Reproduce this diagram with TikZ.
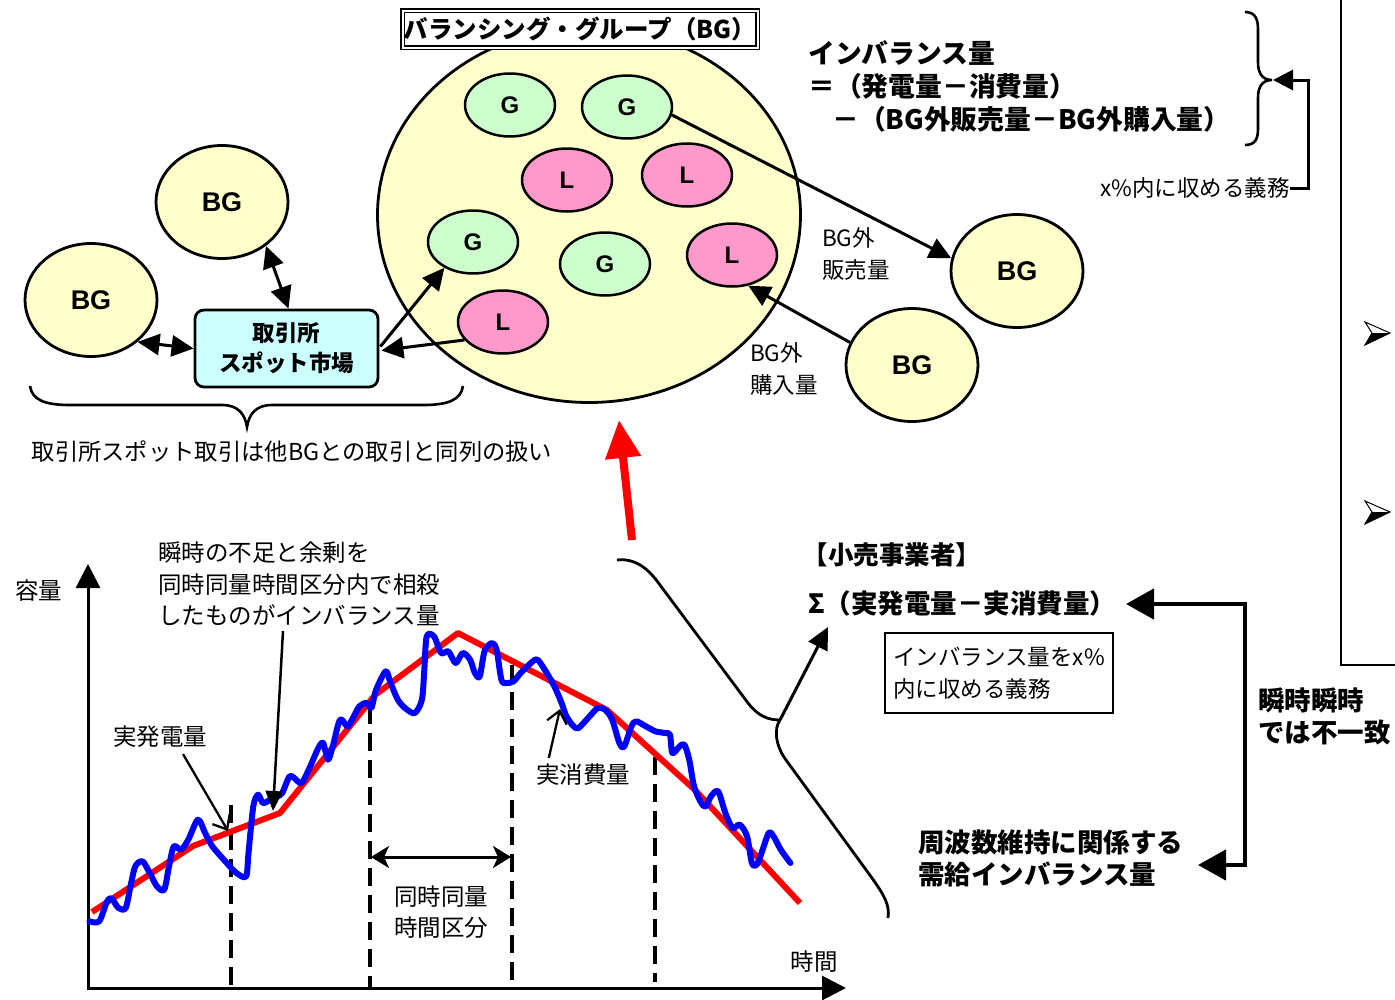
\documentclass[tikz,border=0pt]{standalone}
\usepackage{fontspec}
\setmainfont{Noto Sans CJK JP}
\newfontfamily\lib{Liberation Sans}
\usetikzlibrary{arrows.meta,shapes.geometric,calc}
\definecolor{bgy}{HTML}{FFFFCC}
\definecolor{gfill}{HTML}{CCFFCC}
\definecolor{lfill}{HTML}{FF99CC}
\definecolor{xfill}{HTML}{CCFFFF}
\definecolor{pblue}{HTML}{0000FF}
\definecolor{pred}{HTML}{FF0000}
\begin{document}
\begin{tikzpicture}[x=1pt,y=-1pt,
 bgell/.style={ellipse,draw,line width=2.8pt,fill=bgy,minimum width=132pt,minimum height=113pt,inner sep=0pt,font=\lib\bfseries\fontsize{27}{30}\selectfont},
 gell/.style={ellipse,draw,line width=2.5pt,fill=gfill,minimum width=90pt,minimum height=63pt,inner sep=0pt,font=\lib\bfseries\fontsize{24}{26}\selectfont},
 lell/.style={gell,fill=lfill},
 arr/.style={line width=3pt,-{Triangle[length=22pt,width=21pt]}},
 darr/.style={line width=3pt,{Triangle[length=22pt,width=21pt]}-{Triangle[length=22pt,width=21pt]}},
 barb/.style={line width=2.3pt,-{Straight Barb[length=12pt,width=20pt]}},
 rtxt/.style={font=\fontsize{23.5}{31.5}\selectfont,inner sep=0pt},
 stxt/.style={font=\fontsize{22.5}{32}\selectfont,inner sep=0pt},
 btxt/.style={font=\bfseries\fontsize{26.5}{32}\selectfont,inner sep=0pt},
 chartdash/.style={line width=3.5pt,dash pattern=on 18pt off 9pt},
]
\useasboundingbox (0,0) rectangle (1395,999);

% ---------- Balancing group ----------
\node[ellipse,draw,line width=2.8pt,fill=bgy,minimum width=423pt,minimum height=375pt,inner sep=0pt] (big) at (589,215) {};
\node[draw,double,double distance=2pt,line width=1.2pt,fill=white,minimum width=355pt,minimum height=37pt,inner sep=0pt,font=\bfseries\fontsize{24.5}{28}\selectfont] (title) at (580,29) {バランシング・グループ（BG）};

\node[gell] (g1) at (510,105) {G};
\node[gell] (g2) at (627,107) {G};
\node[lell] (l1) at (567,180) {L};
\node[lell] (l2) at (687,175) {L};
\node[gell] (g3) at (473,242) {G};
\node[gell] (g4) at (605,264) {G};
\node[lell] (l3) at (732,255) {L};
\node[lell] (l4) at (503,322) {L};

\node[bgell] (bgT) at (222,202) {BG};
\node[bgell] (bgL) at (91,300) {BG};
\node[bgell] (bgRT) at (1017,271) {BG};
\node[bgell] (bgRB) at (912,365) {BG};

\node[draw,rounded corners=9pt,line width=2.8pt,fill=xfill,minimum width=183pt,minimum height=77pt,inner sep=0pt,align=center,font=\bfseries\fontsize{22.5}{30}\selectfont] (ex) at (286.5,348.5) {取引所\\スポット市場};

\draw[darr] (bgL.-42) -- (ex.west);
\draw[darr] (bgT.-45) -- ($(ex.north)+(2,0)$);
\draw[arr] ($(ex.east)+(1,-2)$) -- (g3.222);
\draw[arr] (l4.205) -- ($(ex.east)+(2,2)$);
\draw[arr] (g2.-10) -- (bgRT.169);
\draw[arr] (bgRB.160) -- (l3.-62);

\node[stxt,anchor=west,align=left] (sell) at (822,254) {BG外\\販売量};
\node[stxt,anchor=west,align=left] (buy) at (750,369) {BG外\\購入量};

% brace under left part
\draw[line width=2.6pt] (30,386) .. controls (32,400) and (45,405) .. (70,405) -- (222,405)
  .. controls (238,405) and (245,414) .. (247,427) .. controls (249,414) and (256,405) .. (272,405)
  -- (423,405) .. controls (448,405) and (461,400) .. (463,386);
\node[stxt,font=\fontsize{23.3}{32}\selectfont] (spot) at (292,452) {取引所スポット取引は他BGとの取引と同列の扱い};

% ---------- formula top right ----------
\node[font=\bfseries\fontsize{26.8}{33}\selectfont,inner sep=0pt,anchor=north west,align=left] (formula) at (808,40) {インバランス量\\＝（発電量－消費量）\\\hspace*{0.9em}－（BG外販売量－BG外購入量）};
\draw[line width=2.6pt] (1245,12) .. controls (1256,12) and (1258,20) .. (1258,30) -- (1258,62)
  .. controls (1258,73) and (1262,80) .. (1272,80) .. controls (1262,80) and (1258,87) .. (1258,98)
  -- (1258,128) .. controls (1258,138) and (1256,145) .. (1245,145);
\coordinate (btip) at (1273,80);
\node[stxt,anchor=east] (oblig) at (1290,188) {x\%内に収める義務};
\draw[line width=3pt,-{Triangle[length=20pt,width=20pt]}] (oblig.east) -- (1308,188) -- (1308,80) -- (btip);

% right panel
\draw[line width=1.5pt] (1341,-5) -- (1341,665) -- (1400,665);
\foreach \yy in {333,512}{
  \fill[black] (1372,\yy) -- (1390,\yy) -- (1365,\yy+12) -- cycle;
  \draw[line width=1pt,line join=miter] (1365,\yy-11) -- (1390,\yy) -- (1365,\yy+12) -- (1372,\yy) -- cycle;
}

% big red arrow
\coordinate (rbot) at (632,540);
\coordinate (rtop) at (619,420);
\draw[pred,line width=8pt,-{Triangle[length=38pt,width=34pt]}] (rbot) -- (rtop);

% ---------- chart ----------
\coordinate (O) at (88,988);
\coordinate (ytip) at (88,564);
\coordinate (xtip) at (846,988);
\draw[chartdash] (231,805) -- (231,988);
\draw[chartdash] (370,706) -- (370,990);
\draw[chartdash] (512,665) -- (512,982);
\draw[chartdash] (655,757) -- (655,982);
\draw[line width=3pt,-{Triangle[length=24pt,width=24pt]}] (O) -- (ytip);
\draw[line width=3pt,-{Triangle[length=24pt,width=24pt]}] ($(O)+(-1.5,0)$) -- (xtip);

\draw[pred,line width=6pt,line join=round] (92,912) -- (193,846) -- (280,813) -- (375,695) -- (458,633) -- (607,710) -- (695,790) -- (800,903);
\begin{scope}[shift={(82.3,619.7)},xscale=0.4817,yscale=0.3333]
\draw[pblue,line width=6pt,line join=round,line cap=round] plot[smooth,tension=0.5] coordinates {
(15,905) (35,905) (50,850) (60,835) (75,865) (90,865) (100,800) (110,740) (125,725) (140,760)
(155,800) (170,810) (180,740) (190,680) (205,690) (220,660) (240,600) (255,640) (270,680) (300,730)
(320,760) (340,770) (345,700) (355,560) (365,525) (375,550) (390,540) (405,530) (415,520) (430,470)
(440,475) (455,490) (470,450) (490,385) (500,370) (510,420) (520,380) (535,300) (550,320) (560,300)
(575,260) (590,250) (600,265) (610,210) (630,155) (640,190) (655,240) (670,265) (690,280) (705,240)
(710,150) (715,50) (730,50) (745,100) (760,95) (775,130) (790,100) (805,120) (815,160) (825,170)
(835,95) (850,70) (860,90) (870,180) (880,190) (895,185) (910,160) (935,125) (945,120) (960,150)
(980,200) (995,250) (1005,290) (1020,320) (1030,325) (1050,295) (1070,265) (1085,270) (1100,300) (1115,370)
(1125,380) (1140,320) (1150,305) (1170,320) (1190,335) (1210,340) (1220,345) (1225,400) (1240,380) (1250,375)
(1260,420) (1270,500) (1285,550) (1295,560) (1305,530) (1320,515) (1335,580) (1350,625) (1365,615) (1380,650)
(1390,730) (1400,735) (1410,700) (1425,640) (1435,650) (1450,690) (1470,730)};
\end{scope}

\draw[line width=3pt,{Stealth[length=18pt,width=22pt,inset=5pt]}-{Stealth[length=18pt,width=22pt,inset=5pt]}] (371,857) -- (511,857);
\node[rtxt,align=center] (slot) at (441,912) {同時同量\\時間区分};

\node[rtxt] (cap) at (39,591) {容量};
\node[rtxt] (time) at (814,962) {時間};

\node[rtxt] (gen) at (160,737) {実発電量};
\coordinate (genTip) at (228,831);
\draw[barb] ($(gen.south)+(23,6)$) -- (genTip);

\node[rtxt] (con) at (583,775) {実消費量};
\coordinate (conTip) at (560,709);
\draw[barb] ($(con.north west)+(13,-6)$) -- (conTip);

\node[rtxt,anchor=west,align=left] (inst) at (158,584) {瞬時の不足と余剰を\\同時同量時間区分内で相殺\\したものがインバランス量};
\coordinate (instTip) at (273,811);
\draw[line width=2.5pt,-{Triangle[length=20pt,width=17pt]}] (283,631) -- (instTip);

% ---------- retailer ----------
\draw[line width=2.8pt] (617,560) .. controls (635,558) and (648,568) .. (660,585) -- (748,703)
  .. controls (758,716) and (768,720) .. (780,720);
\draw[line width=2.8pt] (780,720) .. controls (774,728) and (775,745) .. (786,760) -- (872,878)
  .. controls (884,895) and (890,905) .. (888,918);
\coordinate (braceTip) at (780,720);
\coordinate (sigTip) at (828,627);
\draw[arr] (braceTip) -- (sigTip);

\node[font=\bfseries\fontsize{25.5}{30}\selectfont,inner sep=0pt] (retail) at (892,555) {【小売事業者】};
\node[font=\bfseries\fontsize{26.5}{30}\selectfont,inner sep=0pt,anchor=west] (sigma) at (808,603) {Σ（実発電量－実消費量）};
\node[draw,line width=1.3pt,minimum width=228pt,minimum height=80pt,inner sep=0pt,align=left,font=\fontsize{22.5}{32}\selectfont] (xbox) at (999,673) {インバランス量をx\%\\内に収める義務};

\node[btxt,anchor=west,align=left] (freq) at (918,858) {周波数維持に関係する\\需給インバランス量};
\node[btxt,anchor=west,align=left] (mism) at (1258,716) {瞬時瞬時\\では不一致};
\coordinate (topTip) at (1126,604);
\coordinate (botTip) at (1198,865);
\draw[line width=4.5pt,{Triangle[length=28pt,width=30pt]}-{Triangle[length=28pt,width=30pt]}] (topTip) -- (1245,604) -- (1245,865) -- (botTip);

\end{tikzpicture}
\end{document}
